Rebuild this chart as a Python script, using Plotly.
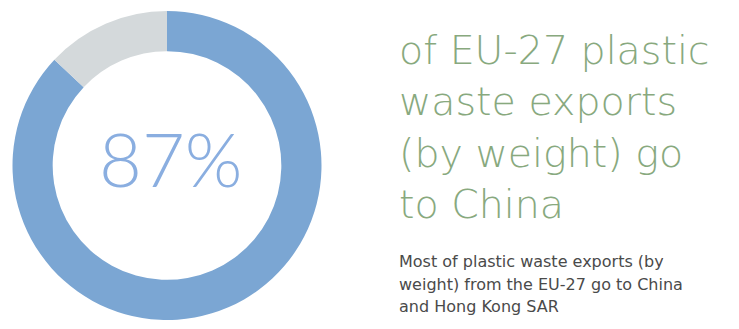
import plotly.graph_objects as go

# Share of EU-27 plastic waste exports (by weight)
segments = ["China and Hong Kong SAR", "Other destinations"]
shares = [87, 13]
segment_colors = ["#7ba6d3", "#d4d9db"]

headline = "87%"
title_lines = ["of EU-27 plastic", "waste exports", "(by weight) go", "to China"]
body_lines = [
    "Most of plastic waste exports (by",
    "weight) from the EU-27 go to China",
    "and Hong Kong SAR",
]

W, H = 739, 329
TEXT_X = 397  # left edge of the text column, px

fig = go.Figure()
fig.add_trace(go.Pie(
    labels=segments,
    values=shares,
    hole=0.74,
    sort=False,
    direction="clockwise",
    rotation=0,
    marker=dict(colors=segment_colors, line=dict(width=0)),
    textinfo="none",
    hoverinfo="label+percent",
    showlegend=False,
    domain=dict(x=[12 / W, 322 / W], y=[9 / H, 318 / H]),
))

annotations = [
    dict(
        text=headline, x=171 / W, y=1 - 158 / H, xref="paper", yref="paper",
        xanchor="center", yanchor="middle", showarrow=False,
        font=dict(family="Lato", size=74, color="#8aaee0", weight=300),
    ),
    # green headline statement
    dict(
        text="<br>".join(title_lines), x=TEXT_X / W, y=1 - 24.5 / H,
        xref="paper", yref="paper", xanchor="left", yanchor="top",
        align="left", showarrow=False,
        font=dict(family="DejaVu Sans", size=39.5, color="#88a97e", weight=200),
    ),
]

# supporting paragraph
body_top, body_pitch = 248, 22.5
for i, line in enumerate(body_lines):
    annotations.append(dict(
        text=line, x=TEXT_X / W, y=1 - (body_top + i * body_pitch) / H,
        xref="paper", yref="paper", xanchor="left", yanchor="top",
        align="left", valign="middle", height=22, showarrow=False,
        font=dict(family="DejaVu Sans", size=16, color="#4a4a4a"),
    ))

fig.update_layout(
    width=W, height=H,
    margin=dict(l=0, r=0, t=0, b=0),
    paper_bgcolor="white", plot_bgcolor="white",
    annotations=annotations,
)

fig.write_html("out.html")
